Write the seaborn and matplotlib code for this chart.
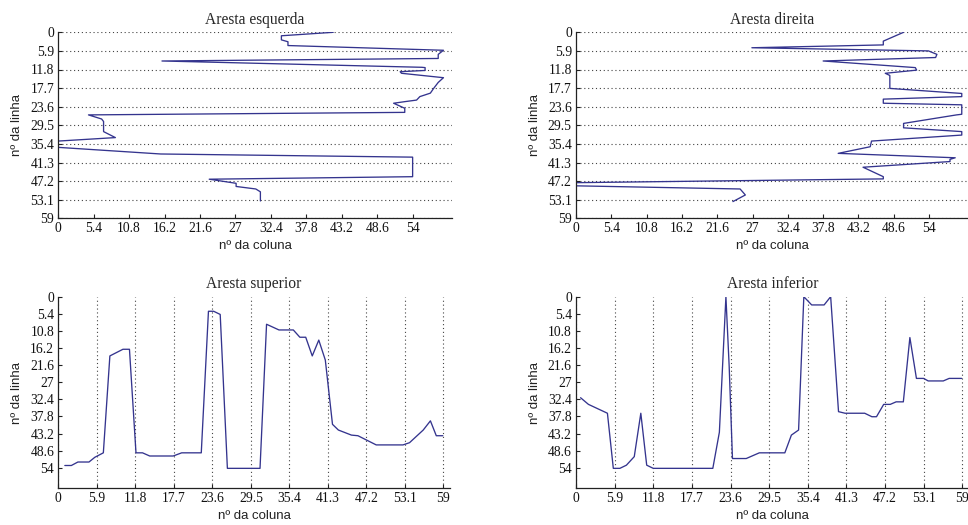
import matplotlib
matplotlib.use("Agg")
import matplotlib.pyplot as plt
import seaborn as sns
import numpy as np
import pandas as pd

# ---- data ----
esq_col = [41.9, 34.0, 34.0, 35.0, 35.0, 58.7, 57.9, 57.9, 15.8, 55.4, 55.9, 55.9, 52.1, 52.3, 58.7,
           57.9, 57.2, 56.7, 55.1, 54.6, 52.8, 51.1, 52.8, 52.8, 4.6, 6.6, 6.9, 6.9, 8.7, 0.0, 0.0,
           15.6, 54.0, 54.0, 23.0, 27.1, 27.1, 30.1, 30.8, 30.8]
esq_lin = [0.0, 1.1, 2.4, 3.0, 4.2, 5.7, 7.0, 8.3, 9.1, 11.1, 11.2, 12.1, 12.5, 13.0, 14.4,
           15.9, 17.8, 19.3, 20.4, 21.5, 22.0, 22.5, 24.1, 25.4, 26.2, 27.5, 28.3, 31.5, 33.4, 34.5, 36.5,
           38.6, 39.6, 45.8, 46.6, 47.9, 48.9, 49.7, 50.6, 53.5]

dir_col = [50.1, 47.0, 47.0, 26.9, 53.9, 55.2, 55.0, 37.8, 51.9, 52.1, 47.3, 48.0, 48.0, 59.0, 59.0,
           47.0, 47.0, 59.0, 59.0, 58.2, 50.1, 50.1, 59.0, 59.0, 45.2, 45.0, 40.1, 58.0, 57.2, 57.2,
           43.9, 47.0, 47.0, 0.0, 0.0, 25.1, 25.9, 24.0]
dir_lin = [0.0, 2.8, 4.0, 4.9, 5.9, 7.0, 8.0, 9.1, 11.2, 12.0, 13.0, 13.7, 17.8, 19.4, 20.4,
           21.2, 22.5, 23.0, 26.0, 26.2, 28.9, 30.3, 31.5, 32.6, 34.5, 36.3, 38.4, 39.8, 40.3, 41.0,
           42.8, 45.8, 46.5, 47.7, 48.7, 49.7, 51.6, 53.7]

sup_col = [1, 2, 3, 4.7, 5.6, 6.9, 7.9, 9.9, 10.9, 11.9, 12.9, 14.0, 17.6, 18.9, 21.9, 23.0, 23.8,
           24.8, 25.9, 30.9, 31.9, 33.8, 36.0, 37.0, 37.9, 38.9, 39.9, 40.9, 42.0, 42.9, 44.9, 45.9,
           48.7, 52.8, 53.8, 55.9, 57.0, 57.9, 58.9]
sup_lin = [53.3, 53.3, 52.2, 52.2, 50.7, 49.3, 18.7, 16.6, 16.6, 49.3, 49.3, 50.3, 50.3, 49.3, 49.3,
           4.6, 4.6, 5.6, 54.2, 54.2, 8.7, 10.5, 10.5, 12.8, 12.8, 18.7, 13.7, 20.0, 40.3, 42.1, 43.7,
           43.9, 46.8, 46.8, 46.1, 42.1, 39.2, 43.9, 43.9]

inf_col = [0.7, 1.9, 4.8, 5.7, 6.7, 7.7, 8.9, 9.9, 10.8, 11.8, 20.9, 21.9, 22.9, 23.4, 23.9, 26.0,
           28.0, 31.9, 32.9, 34.0, 34.8, 36.0, 37.9, 38.9, 40.1, 41.1, 44.1, 45.2, 45.9, 47.0, 48.0,
           48.9, 50.0, 51.0, 52.0, 53.1, 53.8, 56.1, 57.0, 58.9]
inf_lin = [31.9, 34.0, 36.8, 54.2, 54.2, 53.2, 50.5, 36.8, 53.2, 54.2, 54.2, 42.8, 0.0, 22.1, 51.1,
           51.1, 49.3, 49.3, 43.7, 42.1, 0.0, 2.6, 2.6, 0.0, 36.3, 36.8, 36.8, 37.9, 37.9, 34.0, 34.0,
           33.2, 33.2, 12.9, 25.8, 25.8, 26.6, 26.6, 25.8, 25.8]

titles = ["Aresta esquerda", "Aresta direita", "Aresta superior", "Aresta inferior"]
xlabel = "nº da coluna"
ylabel = "nº da linha"
ticks_54 = [0, 5.4, 10.8, 16.2, 21.6, 27, 32.4, 37.8, 43.2, 48.6, 54]
ticks_59 = [0, 5.9, 11.8, 17.7, 23.6, 29.5, 35.4, 41.3, 47.2, 53.1, 59]

# ---- style ----
sns.set_style("white")
plt.rcParams["font.family"] = ["Liberation Serif", "DejaVu Serif"]

LINE = "#34348e"
GRID = "#444444"
fig = plt.figure(figsize=(9.68, 5.25), dpi=100)

W, H = 968, 525
def add_axes(left_px, top_px, right_px, bottom_px):
    return fig.add_axes([left_px / W, 1 - bottom_px / H, (right_px - left_px) / W, (bottom_px - top_px) / H])

ax1 = add_axes(58.3, 32.3, 452.0, 218.3)
ax2 = add_axes(576.0, 32.3, 968.3, 218.3)
ax3 = add_axes(58.3, 296.7, 450.0, 488.3)
ax4 = add_axes(576.0, 296.7, 968.8, 488.3)

series = [(ax1, esq_col, esq_lin), (ax2, dir_col, dir_lin), (ax3, sup_col, sup_lin), (ax4, inf_col, inf_lin)]
for i, (ax, xs, ys) in enumerate(series):
    df = pd.DataFrame({"col": xs, "lin": ys})
    sns.lineplot(data=df, x="col", y="lin", sort=False, estimator=None, ax=ax,
                 color=LINE, linewidth=0.95)
    ax.set_xlim(0, 60)
    top_row = i < 2
    if top_row:
        ax.set_ylim(59, 0)
        ax.set_yticks(ticks_59)
        ax.set_yticklabels([f"{t:g}" for t in ticks_59])
        ax.set_xticks(ticks_54)
        ax.set_xticklabels([f"{t:g}" for t in ticks_54])
        ax.yaxis.grid(True, linestyle=(0, (1, 2.5)), color=GRID, linewidth=0.8)
        ax.xaxis.grid(False)
    else:
        ax.set_ylim(60.5, 0)
        ax.set_yticks(ticks_54)
        ax.set_yticklabels([f"{t:g}" for t in ticks_54])
        ax.set_xticks(ticks_59)
        ax.set_xticklabels([f"{t:g}" for t in ticks_59])
        ax.xaxis.grid(True, linestyle=(0, (1, 2.5)), color=GRID, linewidth=0.8)
        ax.yaxis.grid(False)
    ax.set_axisbelow(True)
    for s in ["top", "right"]:
        ax.spines[s].set_visible(False)
    for s in ["left", "bottom"]:
        ax.spines[s].set_color("#222222")
        ax.spines[s].set_linewidth(0.9)
    ax.tick_params(axis="both", direction="in", length=3, width=0.8, colors="#222222",
                   labelsize=9.8, labelcolor="#111111", pad=3, left=True, bottom=True)
    ax.set_title(titles[i], fontsize=11.2, pad=6, family=["Liberation Serif", "DejaVu Serif"])
    ax.set_xlabel(xlabel, fontsize=9.5, family=["Liberation Sans", "DejaVu Sans"], labelpad=3,
                  color="#222222")
    ax.set_ylabel(ylabel, fontsize=9.5, family=["Liberation Sans", "DejaVu Sans"], labelpad=5,
                  color="#222222")

fig.savefig("out.png", dpi=100)
